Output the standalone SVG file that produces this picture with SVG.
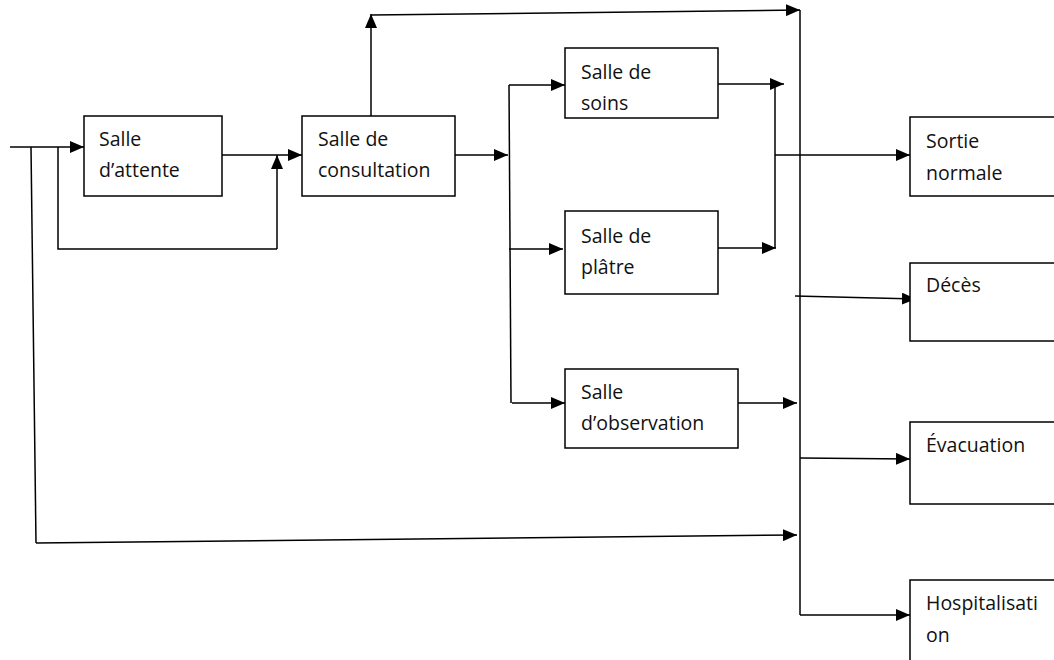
<svg xmlns="http://www.w3.org/2000/svg" width="1054" height="660" viewBox="0 0 1054 660">
<defs>
<marker id="arr" markerWidth="14" markerHeight="12" refX="14" refY="6" orient="auto" markerUnits="userSpaceOnUse">
<path d="M0,0 L14,6 L0,12 Z" fill="#000"/>
</marker>
<style>
.box{fill:#fff;stroke:#000;stroke-width:1.5}
.t{font-family:"Open Sans","Liberation Sans",sans-serif;font-size:19.5px;fill:#111;font-variant-ligatures:none}
.c{fill:none;stroke:#000;stroke-width:1.5}
.a{fill:none;stroke:#000;stroke-width:1.5;marker-end:url(#arr)}
</style>
</defs>
<rect width="1054" height="660" fill="#fff"/>
<g id="connectors">
<path class="a" d="M10,147 L84,147"/>
<path class="c" d="M31,147 L36,543"/>
<path class="a" d="M36,543 L797,535"/>
<path class="c" d="M58,147 L58,249 L277,249"/>
<path class="a" d="M277,249 L277,155"/>
<path class="a" d="M222,155 L302,155"/>
<path class="a" d="M371,116 L371,14"/>
<path class="a" d="M371,15 L800,10"/>
<path class="a" d="M455,155 L508,155"/>
<path class="c" d="M509,85 L511,403"/>
<path class="a" d="M509,85 L565,85"/>
<path class="a" d="M509,249 L563,249"/>
<path class="a" d="M512,403 L565,403"/>
<path class="a" d="M718,84 L784,84"/>
<path class="c" d="M775,85 L775,248"/>
<path class="a" d="M718,248 L776,248"/>
<path class="a" d="M775,155 L910,155"/>
<path class="a" d="M738,403 L797,403"/>
<path class="c" d="M800,10 L800,615"/>
<path class="a" d="M795,296 L916,299"/>
<path class="a" d="M800,458 L910,459"/>
<path class="a" d="M800,615 L910,615"/>
</g>
<g id="attente"><rect class="box" x="84" y="116" width="138" height="80"/><text class="t" x="99" y="146">Salle</text><text class="t" x="99" y="177">d’attente</text></g>
<g id="consultation"><rect class="box" x="302" y="116" width="153" height="80"/><text class="t" x="318" y="146">Salle de</text><text class="t" x="318" y="177">consultation</text></g>
<g id="soins"><rect class="box" x="565" y="48" width="153" height="70"/><text class="t" x="581" y="79">Salle de</text><text class="t" x="581" y="110">soins</text></g>
<g id="platre"><rect class="box" x="565" y="211" width="153" height="83"/><text class="t" x="581" y="243">Salle de</text><text class="t" x="581" y="274">plâtre</text></g>
<g id="observation"><rect class="box" x="565" y="369" width="173" height="79"/><text class="t" x="581" y="399">Salle</text><text class="t" x="581" y="430">d’observation</text></g>
<g id="sortie"><rect class="box" x="910" y="117" width="150" height="79"/><text class="t" x="926" y="148">Sortie</text><text class="t" x="926" y="180">normale</text></g>
<g id="deces"><rect class="box" x="910" y="263" width="150" height="78"/><text class="t" x="926" y="292">Décès</text></g>
<g id="evacuation"><rect class="box" x="910" y="422" width="150" height="82"/><text class="t" x="926" y="452">Évacuation</text></g>
<g id="hospitalisation"><rect class="box" x="910" y="580" width="150" height="90"/><text class="t" x="926" y="610">Hospitalisati</text><text class="t" x="926" y="642">on</text></g>
</svg>
